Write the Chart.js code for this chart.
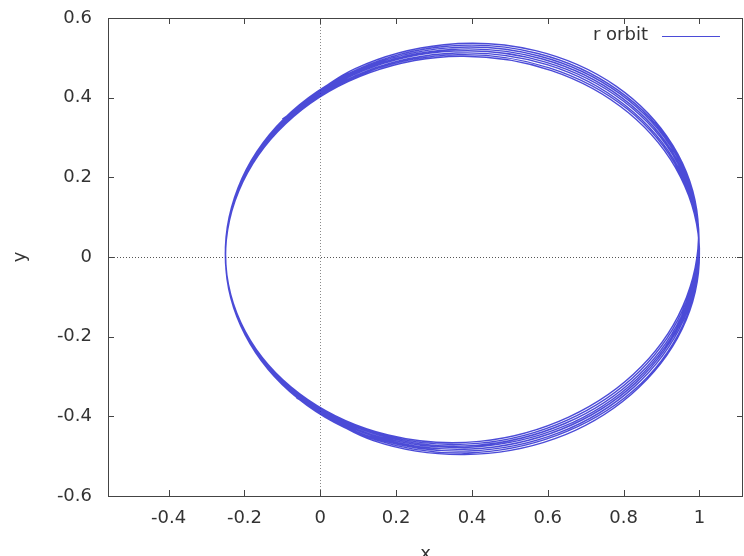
<!DOCTYPE html>
<html>
<head>
<meta charset="utf-8">
<script src="https://cdn.jsdelivr.net/npm/chart.js@4.4.1/dist/chart.umd.min.js"></script>
<style>
  html, body { margin: 0; padding: 0; background: #fff; overflow: hidden; }
  #wrap { width: 744px; height: 556px; position: relative; }
</style>
</head>
<body>
<div id="wrap"><canvas id="chart-orbit"></canvas></div>
<script>
/* -------------------------------------------------- */
/* Data -- orbit trace, one row per loop */
/* (trace starts lower left in the first loop, ends upper left in the last) */
/* -------------------------------------------------- */

const orbitX = [
                 -0.063, 0.140, 0.380, 0.619, 0.820, 0.954, 1.000, 0.950, 0.813, 0.610, 0.370, 0.131, -0.070, -0.204,
  -0.250, -0.198, -0.059, 0.146, 0.386, 0.624, 0.825, 0.957, 1.000, 0.948, 0.809, 0.604, 0.364, 0.126, -0.075, -0.207,
  -0.250, -0.196, -0.055, 0.151, 0.392, 0.630, 0.828, 0.958, 0.999, 0.945, 0.804, 0.598, 0.358, 0.120, -0.079, -0.209,
  -0.250, -0.193, -0.051, 0.157, 0.398, 0.635, 0.832, 0.960, 0.999, 0.943, 0.800, 0.592, 0.352, 0.114, -0.083, -0.211,
  -0.250, -0.191, -0.046, 0.162, 0.403, 0.640, 0.836, 0.962, 0.998, 0.940, 0.795, 0.586, 0.345, 0.109, -0.087, -0.213,
  -0.249, -0.189, -0.042, 0.168, 0.409, 0.645, 0.840, 0.964, 0.998, 0.937, 0.790, 0.580, 0.339, 0.103, -0.092, -0.215,
  -0.249, -0.186, -0.038, 0.173, 0.415, 0.650, 0.843, 0.965, 0.997, 0.934, 0.785, 0.574, 0.333, 0.098, -0.096, -0.217,
  -0.249, -0.184, -0.033, 0.179, 0.420, 0.655, 0.847, 0.966, 0.996, 0.930, 0.780, 0.568, 0.326, 0.092, -0.100,
];

const orbitY = [
                 -0.354, -0.461, -0.496, -0.456, -0.345, -0.182, 0.010, 0.201, 0.362, 0.468, 0.504, 0.463, 0.353, 0.189,
  -0.006, -0.196, -0.355, -0.459, -0.492, -0.448, -0.336, -0.170, 0.022, 0.212, 0.372, 0.475, 0.508, 0.465, 0.352, 0.187,
  -0.009, -0.198, -0.356, -0.457, -0.487, -0.441, -0.326, -0.159, 0.034, 0.224, 0.381, 0.483, 0.512, 0.466, 0.351, 0.184,
  -0.012, -0.200, -0.356, -0.455, -0.482, -0.433, -0.316, -0.147, 0.046, 0.235, 0.391, 0.490, 0.517, 0.468, 0.350, 0.182,
  -0.015, -0.203, -0.357, -0.453, -0.477, -0.426, -0.306, -0.136, 0.058, 0.246, 0.400, 0.497, 0.521, 0.469, 0.349, 0.179,
  -0.018, -0.205, -0.357, -0.451, -0.473, -0.418, -0.296, -0.124, 0.070, 0.258, 0.410, 0.504, 0.525, 0.470, 0.348, 0.177,
  -0.020, -0.207, -0.358, -0.449, -0.468, -0.410, -0.286, -0.113, 0.082, 0.269, 0.419, 0.511, 0.529, 0.471, 0.347, 0.174,
  -0.023, -0.210, -0.358, -0.447, -0.463, -0.402, -0.275, -0.101, 0.094, 0.280, 0.429, 0.518, 0.533, 0.473, 0.346,
];

const X_TICKS = [-0.4, -0.2, 0, 0.2, 0.4, 0.6, 0.8, 1];
const Y_TICKS = [-0.6, -0.4, -0.2, 0, 0.2, 0.4, 0.6];
const SERIES_LABEL = 'r orbit';
const X_TITLE = 'x';
const Y_TITLE = 'y';

const LINE_COLOR  = 'rgba(30,30,205,0.8)';
const FRAME_COLOR = '#444';
const TEXT_COLOR  = '#333';
const FONT_FAMILY = "'DejaVu Sans', sans-serif";

Chart.defaults.font.family = FONT_FAMILY;
Chart.defaults.font.size   = 18;
Chart.defaults.color       = TEXT_COLOR;

/* -------------------------------------------------- */
/* Helpers */
/* -------------------------------------------------- */

function fmtTick(v) {
  const n = parseFloat(Number(v).toFixed(1));
  return n === 0 ? '0' : String(n);
}

function setTicks(list) {
  return scale => { scale.ticks = list.map(v => ({ value: v })); };
}

// gnuplot-like frame: border box, inward ticks on all sides, key in top right
const gnuFrame = {
  id: 'gnuFrame',
  afterDraw(chart) {
    const { ctx, chartArea: a, scales: { x, y } } = chart;
    const TL = 6;
    ctx.save();
    ctx.strokeStyle = FRAME_COLOR;
    ctx.lineWidth = 1;
    ctx.strokeRect(Math.round(a.left) + 0.5, Math.round(a.top) + 0.5,
                   Math.round(a.right - a.left) - 1, Math.round(a.bottom - a.top));

    ctx.beginPath();
    X_TICKS.forEach(v => {
      const px = Math.round(x.getPixelForValue(v)) + 0.5;
      ctx.moveTo(px, a.bottom); ctx.lineTo(px, a.bottom - TL);
      ctx.moveTo(px, a.top);    ctx.lineTo(px, a.top + TL);
    });
    Y_TICKS.forEach(v => {
      const py = Math.round(y.getPixelForValue(v)) + 0.5;
      ctx.moveTo(a.left, py);  ctx.lineTo(a.left + TL, py);
      ctx.moveTo(a.right, py); ctx.lineTo(a.right - TL, py);
    });
    ctx.stroke();

    // key
    ctx.font = `18px ${FONT_FAMILY}`;
    ctx.fillStyle = TEXT_COLOR;
    ctx.textAlign = 'right';
    ctx.textBaseline = 'middle';
    ctx.fillText(SERIES_LABEL, 648, 35);
    ctx.strokeStyle = LINE_COLOR;
    ctx.beginPath();
    ctx.moveTo(662, 36.5); ctx.lineTo(720, 36.5);
    ctx.stroke();
    ctx.restore();
  },
};

/* -------------------------------------------------- */
/* Chart */
/* -------------------------------------------------- */

const points = orbitX.map((xv, i) => ({ x: xv, y: orbitY[i] }));

const zeroLine = col => c => (c.tick && c.tick.value === 0 ? col : 'rgba(0,0,0,0)');

new Chart(document.getElementById('chart-orbit').getContext('2d'), {
  type: 'scatter',
  data: {
    datasets: [{
      label: SERIES_LABEL,
      data: points,
      showLine: true,
      borderColor: LINE_COLOR,
      borderWidth: 1.4,
      pointRadius: 0,
      tension: 0.35,
      fill: false,
    }],
  },
  options: {
    responsive: true,
    maintainAspectRatio: false,
    animation: false,
    layout: { padding: { top: 18, right: 1, left: 0, bottom: 0 } },
    plugins: {
      legend: { display: false },
      tooltip: { enabled: false },
    },
    scales: {
      x: {
        type: 'linear',
        min: -0.56,
        max: 1.115,
        afterBuildTicks: setTicks(X_TICKS),
        afterFit: s => { s.height = 60; s.paddingLeft = 0; s.paddingRight = 0; },
        ticks: { callback: fmtTick, padding: 12, includeBounds: false, maxRotation: 0, color: TEXT_COLOR },
        grid: { color: zeroLine('#8a8a8a'), drawTicks: false },
        border: { display: false, dash: [1, 2] },
        title: { display: true, text: X_TITLE, padding: { top: 0, bottom: -9 }, color: TEXT_COLOR },
      },
      y: {
        type: 'linear',
        min: -0.6,
        max: 0.6,
        afterBuildTicks: setTicks(Y_TICKS),
        afterFit: s => { s.width = 108; s.paddingTop = 0; s.paddingBottom = 0; },
        ticks: { callback: fmtTick, padding: 16, includeBounds: false, color: TEXT_COLOR },
        grid: { color: zeroLine('#555'), drawTicks: false },
        border: { display: false, dash: [1, 2] },
        title: { display: true, text: Y_TITLE, padding: { top: 10, bottom: 0 }, color: TEXT_COLOR },
      },
    },
  },
  plugins: [gnuFrame],
});
</script>
</body>
</html>
